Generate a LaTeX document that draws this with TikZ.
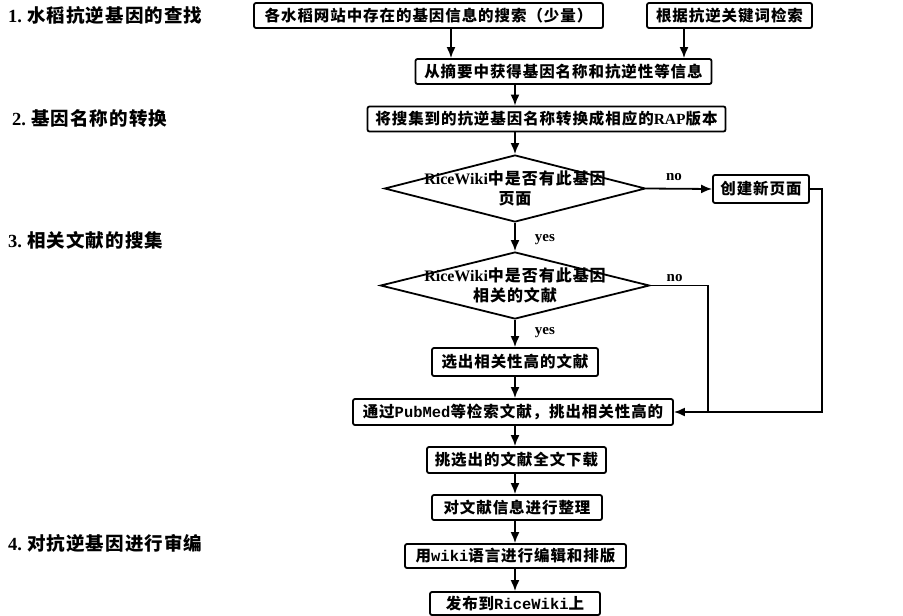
\documentclass[tikz,border=0pt]{standalone}
\usepackage{fontspec}
\setmainfont{Liberation Serif}
\newfontfamily\cjk{Noto Sans CJK SC}[LetterSpace=6]
\newfontfamily\monof{Liberation Mono}
\usetikzlibrary{shapes.geometric,arrows.meta}
\newcommand{\zh}[1]{{\cjk #1}}
\newcommand{\mo}[1]{{\monof #1}}
\tikzset{
  box/.style={draw, line width=1.8pt, rounded corners=2pt, inner sep=0pt,
    minimum height=25pt, font=\bfseries\fontsize{15.5}{18}\selectfont, align=center},
  dia/.style={draw, line width=1.8pt, shape=diamond, inner sep=0pt, aspect=3.9},
  diatext/.style={font=\bfseries\fontsize{16}{20}\selectfont, align=center, inner sep=0pt},
  lbl/.style={anchor=west, inner sep=0pt, font=\bfseries\fontsize{18.5}{20}\selectfont},
  yn/.style={inner sep=0pt, font=\bfseries\fontsize{15}{16}\selectfont},
  arr/.style={line width=1.8pt, -{Latex[length=11pt,width=9pt]}},
  ln/.style={line width=1.8pt}
}
\begin{document}
\begin{tikzpicture}[x=1pt,y=-1pt]
\useasboundingbox (0,0) rectangle (903,616);
% left labels
\node[lbl] (l1) at (8,15) {1.\hspace{5pt}\zh{水稻抗逆基因的查找}};
\node[lbl] (l2) at (12,118) {2.\hspace{5pt}\zh{基因名称的转换}};
\node[lbl] (l3) at (8,240) {3.\hspace{5pt}\zh{相关文献的搜集}};
\node[lbl] (l4) at (8,543) {4.\hspace{5pt}\zh{对抗逆基因进行审编}};
% boxes
\node[box, minimum width=349pt] (b1) at (428.5,15.5) {\zh{各水稻网站中存在的基因信息的搜索（少量）}};
\node[box, minimum width=165pt] (b2) at (729.5,15.5) {\zh{根据抗逆关键词检索}};
\node[box, minimum width=296pt] (b3) at (563.5,71.5) {\zh{从摘要中获得基因名称和抗逆性等信息}};
\node[box, minimum width=358pt] (b4) at (546.5,119) {\zh{将搜集到的抗逆基因名称转换成相应的}RAP\zh{版本}};
\node[dia, minimum width=261pt, minimum height=67pt] (d1) at (515,188.5) {};
\node[diatext] (t1) at (d1.center) {RiceWiki\zh{中是否有此基因}\\\zh{页面}};
\node[box, minimum width=96pt, minimum height=28pt] (cr) at (761,189) {\zh{创建新页面}};
\node[dia, minimum width=269pt, minimum height=67pt] (d2) at (515,285.5) {};
\node[diatext] (t2) at (d2.center) {RiceWiki\zh{中是否有此基因}\\\zh{相关的文献}};
\node[box, minimum width=166pt, minimum height=28pt] (sel) at (515,362) {\zh{选出相关性高的文献}};
\node[box, minimum width=320pt, minimum height=26pt] (pub) at (513,412) {\zh{通过}\mo{PubMed}\zh{等检索文献，挑出相关性高的}};
\node[box, minimum width=179pt, minimum height=26pt] (dl) at (516.5,460) {\zh{挑选出的文献全文下载}};
\node[box, minimum width=170pt] (org) at (517,507.5) {\zh{对文献信息进行整理}};
\node[box, minimum width=221pt, minimum height=24pt] (wk) at (515.5,556) {\zh{用}\mo{wiki}\zh{语言进行编辑和排版}};
\node[box, minimum width=170pt, minimum height=23pt] (rel) at (515,603.5) {\zh{发布到}\mo{RiceWiki}\zh{上}};
% helper coordinates
\coordinate (xa) at (451,0);
\coordinate (xb) at (684,0);
\coordinate (xr) at (822,0);
\coordinate (xj) at (708,0);
% connectors
\draw[arr] (b1.south -| xa) -- (b3.north -| xa);
\draw[arr] (b2.south -| xb) -- (b3.north -| xb);
\draw[arr] (b3.south -| d1) -- (b4.north -| d1);
\draw[arr] (b4.south -| d1) -- (d1.north);
\draw[arr] (d1.east) -- (cr.west) node[yn, pos=0.42, above=7pt] (n1) {no};
\draw[arr] (d1.south) -- (d2.north) node[yn, pos=0.6, right=19pt] (y1) {yes};
\draw[arr] (d2.south) -- (sel.north) node[yn, pos=0.45, right=19pt] (y2) {yes};
\draw[ln] (d2.east) -- (d2.east -| xj) node[yn, pos=0.42, above=3pt] (n2) {no} -- (xj |- pub.east);
\draw[arr] (cr.east) -- (cr.east -| xr) -- (xr |- pub.east) -- (pub.east);
\draw[arr] (sel.south) -- (sel.south -| d1) -- (pub.north -| d1);
\draw[arr] (pub.south -| d1) -- (dl.north -| d1);
\draw[arr] (dl.south -| d1) -- (org.north -| d1);
\draw[arr] (org.south -| d1) -- (wk.north -| d1);
\draw[arr] (wk.south -| d1) -- (rel.north -| d1);
\end{tikzpicture}
\end{document}
